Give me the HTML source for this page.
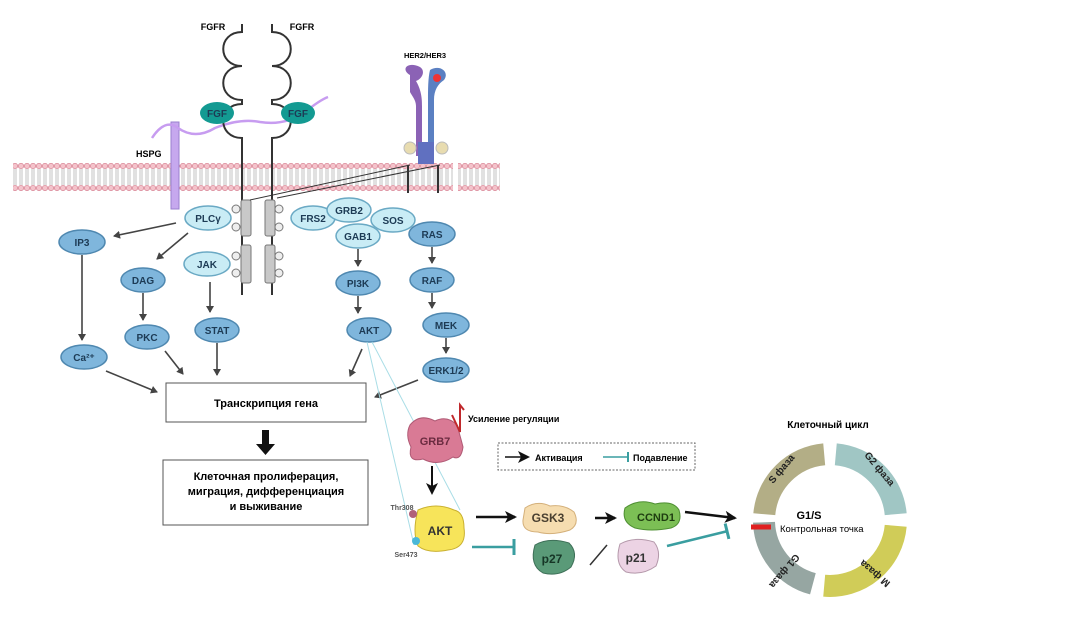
<!DOCTYPE html>
<html><head><meta charset="utf-8"><style>
html,body{margin:0;padding:0;background:#fff}
svg{display:block;font-family:"Liberation Sans",sans-serif}
.n{fill:#7fb6dc;stroke:#4f88b0;stroke-width:1.5}
.l{fill:#c9ecf5;stroke:#6aa9c4;stroke-width:1.5}
.t{font-size:10px;font-weight:bold;fill:#1d3b55;text-anchor:middle}
.a{stroke:#444;stroke-width:1.6;fill:none;marker-end:url(#ah)}
</style></head><body>
<svg width="1080" height="634" viewBox="0 0 1080 634">
<defs>
<marker id="ah" markerWidth="8" markerHeight="8" refX="6" refY="4" orient="auto" markerUnits="userSpaceOnUse"><path d="M0,0 L7,4 L0,8z" fill="#444"/></marker>
<marker id="bk" markerWidth="14" markerHeight="12" refX="10" refY="6" orient="auto" markerUnits="userSpaceOnUse"><path d="M0,0 L12,6 L0,12 L3,6z" fill="#111"/></marker>
<marker id="tb" markerWidth="6" markerHeight="16" refX="3" refY="8" orient="auto" markerUnits="userSpaceOnUse"><path d="M2,0 L2,16" stroke="#3a9ea0" stroke-width="3"/></marker>
<pattern id="mem" x="0" y="163" width="6" height="28" patternUnits="userSpaceOnUse">
<path d="M2,6 L2,22 M4,6 L4,22" stroke="#aaa" stroke-width=".7"/>
<circle cx="3" cy="3" r="2.7" fill="#f4c3cb" stroke="#d98797" stroke-width=".7"/>
<circle cx="3" cy="25" r="2.7" fill="#f4c3cb" stroke="#d98797" stroke-width=".7"/>
</pattern>
</defs>
<rect x="13" y="163" width="440" height="28" fill="url(#mem)"/>
<rect x="458" y="163" width="42" height="28" fill="url(#mem)"/>
<rect x="171" y="122" width="8" height="87" fill="#c6a8ee" stroke="#9a7fcf"/>
<path d="M152,138 Q165,118 178,128 Q195,140 215,128 Q240,118 260,122 Q285,126 305,112 Q320,100 328,97" stroke="#c79cf0" stroke-width="2.5" fill="none"/>
<g stroke="#333" stroke-width="2" fill="none">
<path d="M242,24 v8 c-25,0 -25,34 0,34 c-25,0 -25,34 0,34 v4 c-25,0 -25,34 0,34 v10 V295"/>
<path d="M272,24 v8 c25,0 25,34 0,34 c25,0 25,34 0,34 v4 c25,0 25,34 0,34 v10 V295"/>
</g>
<g fill="#c8c8c8" stroke="#777"><rect x="241" y="200" width="10" height="36" rx="2"/><rect x="241" y="245" width="10" height="38" rx="2"/><rect x="265" y="200" width="10" height="36" rx="2"/><rect x="265" y="245" width="10" height="38" rx="2"/></g>
<g fill="#eee" stroke="#777">
<circle cx="236" cy="209" r="4"/><circle cx="236" cy="227" r="4"/><circle cx="236" cy="256" r="4"/><circle cx="236" cy="273" r="4"/>
<circle cx="279" cy="209" r="4"/><circle cx="279" cy="227" r="4"/><circle cx="279" cy="256" r="4"/><circle cx="279" cy="273" r="4"/></g>
<text x="213" y="30" font-size="9" font-weight="bold" text-anchor="middle">FGFR</text>
<text x="302" y="30" font-size="9" font-weight="bold" text-anchor="middle">FGFR</text>
<ellipse cx="217" cy="113" rx="17" ry="11" fill="#139a92"/><text x="217" y="117" class="t" fill="#0c3b3a">FGF</text>
<ellipse cx="298" cy="113" rx="17" ry="11" fill="#139a92"/><text x="298" y="117" class="t">FGF</text>
<text x="136" y="157" font-size="9" font-weight="bold">HSPG</text>
<text x="425" y="58" font-size="7.5" font-weight="bold" text-anchor="middle">HER2/HER3</text>
<path d="M410,75 c-10,-6 -2,-14 10,-8 c6,4 2,12 -4,14 c6,10 6,20 6,25 v50 h-6 v-50 c0,-6 -4,-10 -6,-14z" fill="#8b62b5"/>
<path d="M430,70 c10,-6 20,2 14,10 c-6,4 -10,10 -10,20 v60 h-6 v-60 c0,-10 0,-22 2,-30z" fill="#5b80c2"/>
<circle cx="437" cy="78" r="4" fill="#e33"/>
<rect x="418" y="142" width="16" height="22" fill="#6070c0"/>
<circle cx="410" cy="148" r="6" fill="#e8dcb0" stroke="#bbb"/><circle cx="442" cy="148" r="6" fill="#e8dcb0" stroke="#bbb"/>
<g stroke="#333" stroke-width="1"><path d="M250,200 L410,165 M277,198 L440,165"/><path d="M408,165 v28 M438,165 v28" stroke-width="2"/></g>
<ellipse class="l" cx="208" cy="218" rx="23" ry="12"/><text class="t" x="208" y="222">PLCγ</text>
<ellipse class="l" cx="207" cy="264" rx="23" ry="12"/><text class="t" x="207" y="268">JAK</text>
<ellipse class="l" cx="313" cy="218" rx="22" ry="12"/><text class="t" x="313" y="222">FRS2</text>
<ellipse class="l" cx="349" cy="210" rx="22" ry="12"/><text class="t" x="349" y="214">GRB2</text>
<ellipse class="l" cx="358" cy="236" rx="22" ry="12"/><text class="t" x="358" y="240">GAB1</text>
<ellipse class="l" cx="393" cy="220" rx="22" ry="12"/><text class="t" x="393" y="224">SOS</text>
<ellipse class="n" cx="82" cy="242" rx="23" ry="12"/><text class="t" x="82" y="246">IP3</text>
<ellipse class="n" cx="143" cy="280" rx="22" ry="12"/><text class="t" x="143" y="284">DAG</text>
<ellipse class="n" cx="147" cy="337" rx="22" ry="12"/><text class="t" x="147" y="341">PKC</text>
<ellipse class="n" cx="84" cy="357" rx="23" ry="12"/><text class="t" x="84" y="361">Ca²⁺</text>
<ellipse class="n" cx="217" cy="330" rx="22" ry="12"/><text class="t" x="217" y="334">STAT</text>
<ellipse class="n" cx="432" cy="234" rx="23" ry="12"/><text class="t" x="432" y="238">RAS</text>
<ellipse class="n" cx="432" cy="280" rx="22" ry="12"/><text class="t" x="432" y="284">RAF</text>
<ellipse class="n" cx="446" cy="325" rx="23" ry="12"/><text class="t" x="446" y="329">MEK</text>
<ellipse class="n" cx="446" cy="370" rx="23" ry="12"/><text class="t" x="446" y="374">ERK1/2</text>
<ellipse class="n" cx="358" cy="283" rx="22" ry="12"/><text class="t" x="358" y="287">PI3K</text>
<ellipse class="n" cx="369" cy="330" rx="22" ry="12"/><text class="t" x="369" y="334">AKT</text>
<path class="a" d="M176,223 L114,236"/><path class="a" d="M188,233 L157,259"/>
<path class="a" d="M82,255 V340"/><path class="a" d="M143,293 V320"/>
<path class="a" d="M210,282 V312"/><path class="a" d="M358,249 V266"/><path class="a" d="M358,296 V313"/>
<path class="a" d="M432,247 V263"/><path class="a" d="M432,293 V308"/><path class="a" d="M446,338 V353"/>
<path class="a" d="M106,371 L157,392"/><path class="a" d="M165,351 L183,374"/><path class="a" d="M217,343 V375"/>
<path class="a" d="M362,349 L350,376"/><path class="a" d="M418,380 L375,397"/>
<rect x="166" y="383" width="200" height="39" fill="#fff" stroke="#555"/>
<text x="266" y="407" font-size="11" font-weight="bold" text-anchor="middle">Транскрипция гена</text>
<path d="M262,430 h7 v14 h6 l-9.5,11 l-9.5,-11 h6z" fill="#111"/>
<rect x="163" y="460" width="205" height="65" fill="#fff" stroke="#555"/>
<text font-size="11" font-weight="bold" text-anchor="middle"><tspan x="266" y="480">Клеточная пролиферация,</tspan><tspan x="266" y="495">миграция, дифференциация</tspan><tspan x="266" y="510">и выживание</tspan></text>
<path d="M367,342 L414,545 M372,342 L460,510" stroke="#a9dde6" stroke-width="1" fill="none"/>
<path d="M410,425 q10,-12 25,-4 q12,-6 22,4 q4,14 6,22 q-2,14 -10,10 q-15,10 -30,2 q-16,4 -12,-12 q-6,-12 -1,-22z" fill="#d97a95" stroke="#b05a75"/>
<text x="435" y="445" font-size="11" font-weight="bold" fill="#6b2b40" text-anchor="middle">GRB7</text>
<path d="M452,415 L460,432 L460,405 L464,410" stroke="#c0282c" stroke-width="2" fill="none"/>
<text x="468" y="422" font-size="9" font-weight="bold">Усиление регуляции</text>
<path d="M432,466 V493" stroke="#111" stroke-width="2" marker-end="url(#bk)"/>
<path d="M418,510 q18,-8 36,0 q10,2 10,18 q3,20 -16,22 q-20,4 -30,-4 q-6,-14 0,-36z" fill="#f7e45a" stroke="#c9b030"/>
<text x="440" y="535" font-size="12" font-weight="bold" fill="#333" text-anchor="middle">AKT</text>
<circle cx="413" cy="514" r="4" fill="#b0607a"/><circle cx="416" cy="541" r="4" fill="#4bb8d8"/>
<text x="402" y="510" font-size="7" font-weight="bold" fill="#555" text-anchor="middle">Thr308</text>
<text x="406" y="557" font-size="7" font-weight="bold" fill="#555" text-anchor="middle">Ser473</text>
<rect x="498" y="443" width="197" height="27" fill="none" stroke="#666" stroke-dasharray="2,1.5"/>
<path d="M505,457 H528" stroke="#111" stroke-width="1.5" marker-end="url(#bk)"/>
<text x="535" y="461" font-size="9" font-weight="bold">Активация</text>
<path d="M603,457 H628" stroke="#3a9ea0" stroke-width="1.5"/><path d="M628,452 v10" stroke="#3a9ea0" stroke-width="2"/>
<text x="633" y="461" font-size="9" font-weight="bold">Подавление</text>
<path d="M525,508 q12,-8 25,-2 q14,-2 24,6 q6,12 -4,18 q-18,6 -32,2 q-16,0 -15,-12z" fill="#f6ddb0" stroke="#d4b07a"/>
<text x="548" y="522" font-size="12" font-weight="bold" fill="#4a4030" text-anchor="middle">GSK3</text>
<path d="M625,508 q14,-10 30,-4 q18,-4 24,6 q4,14 -8,18 q-20,4 -36,0 q-14,-6 -10,-20z" fill="#7cbf55" stroke="#4e8f32"/>
<text x="656" y="521" font-size="11" font-weight="bold" fill="#1e3d10" text-anchor="middle">CCND1</text>
<path d="M535,545 q14,-8 34,-2 q10,10 2,24 q-12,10 -28,6 q-14,-8 -8,-28z" fill="#5a9a78" stroke="#3e7058"/>
<text x="552" y="563" font-size="12" font-weight="bold" fill="#163626" text-anchor="middle">p27</text>
<path d="M620,544 q14,-8 34,-2 q8,10 2,24 q-14,10 -30,6 q-12,-8 -6,-28z" fill="#ecd3e4" stroke="#b498aa"/>
<text x="636" y="562" font-size="12" font-weight="bold" fill="#333" text-anchor="middle">p21</text>
<path d="M590,565 L607,545" stroke="#333" stroke-width="1.5"/>
<path d="M476,517 H515" stroke="#111" stroke-width="2.5" marker-end="url(#bk)"/>
<path d="M595,518 H615" stroke="#111" stroke-width="2.5" marker-end="url(#bk)"/>
<path d="M685,512 L735,518" stroke="#111" stroke-width="2.5" marker-end="url(#bk)"/>
<path d="M472,547 H515" stroke="#3a9ea0" stroke-width="2.5" marker-end="url(#tb)"/>
<path d="M667,546 L728,531" stroke="#3a9ea0" stroke-width="2.5" marker-end="url(#tb)"/>
<text x="828" y="428" font-size="10" font-weight="bold" text-anchor="middle">Клеточный цикл</text>
<g fill="none" stroke-width="22">
<path d="M764.3,514.2 A66,66 0 0 1 824.2,454.3" stroke="#b3ae86"/>
<path d="M835.8,454.3 A66,66 0 0 1 895.7,514.2" stroke="#a0c6c4"/>
<path d="M895.7,525.8 A66,66 0 0 1 824.2,585.7" stroke="#d0cc58"/>
<path d="M812.9,583.8 A66,66 0 0 1 764,522.3" stroke="#96a6a2"/>
</g>
<path d="M751,527 h20" stroke="#e02020" stroke-width="5"/>
<g font-size="10" font-weight="bold" fill="#222" text-anchor="middle">
<text transform="translate(784,471) rotate(-50)">S фаза</text>
<text transform="translate(877,471) rotate(50)">G2 фаза</text>
<text transform="translate(877,571) rotate(-140)">M фаза</text>
<text transform="translate(782,569) rotate(130)">G1 фаза</text>
</g>
<text x="809" y="519" font-size="11" font-weight="bold" text-anchor="middle">G1/S</text>
<text x="780" y="532" font-size="9.5">Контрольная точка</text>
</svg>
</body></html>
